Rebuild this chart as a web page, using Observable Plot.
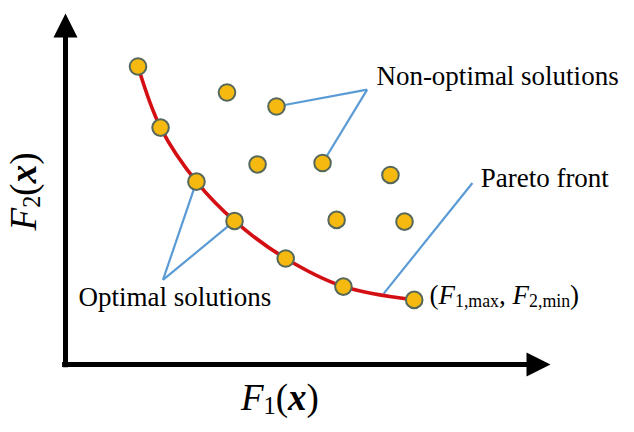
<!DOCTYPE html>
<html><head><meta charset="utf-8">
<script src="https://cdn.jsdelivr.net/npm/d3@7"></script>
<script src="https://cdn.jsdelivr.net/npm/@observablehq/plot@0.6"></script>
<style>
html,body{margin:0;padding:0;background:#fff;}
svg text, svg tspan{white-space:pre;font-family:"Liberation Serif","Times New Roman",serif;}
</style>
</head><body><div id="chart"></div>
<script>
// Data (abstract objective units, 0..100 on both axes)
const optimalF1 = [14.95, 19.6, 27.0, 34.85, 45.4, 57.3, 71.9];
const optimalF2 = [84.9, 67.5, 52.1, 40.9, 30.2, 22.2, 18.4];
const nonOptimalF1 = [33.3, 43.5, 39.6, 53.0, 67.0, 55.9, 69.9];
const nonOptimalF2 = [77.5, 73.5, 57.0, 57.4, 54.0, 41.2, 40.7];

// Annotation leader lines
const leaderX1 = [62.2, 62.2, 83.9, 20.1, 20.1];
const leaderY1 = [78.3, 78.3, 51.7, 24.1, 24.1];
const leaderX2 = [43.5, 53.0, 65.6, 27.0, 34.85];
const leaderY2 = [73.5, 57.4, 20.2, 52.1, 40.9];

// Annotation labels
const labelText = ["Non-optimal solutions", "Pareto front", "Optimal solutions", "(F1,max, F2,min)"];
const labelX = [64.1, 85.6, 2.7, 75.05];
const labelY = [79.5, 50.5, 16.8, 17.1];

// Axis titles
const xTitle = "F1(x)";
const yTitle = "F2(x)";

const optimal = optimalF1.map((x, i) => ({x, y: optimalF2[i]}));
const nonOptimal = nonOptimalF1.map((x, i) => ({x, y: nonOptimalF2[i]}));
const leaders = leaderX1.map((x1, i) => ({x1, y1: leaderY1[i], x2: leaderX2[i], y2: leaderY2[i]}));
const labels = labelText.map((t, i) => ({t, x: labelX[i], y: labelY[i]}));

const arrowHead = {
  draw(context) {
    context.moveTo(0, 0);
    context.lineTo(-12, 24);
    context.lineTo(12, 24);
    context.closePath();
  }
};

const serif = "Liberation Serif";
const dotFill = "#f5b90f", dotStroke = "#56685a";

const chart = Plot.plot({
  width: 634,
  height: 432,
  x: {domain: [0, 100], range: [65, 550], axis: null},
  y: {domain: [0, 100], range: [364, 13], axis: null},
  style: {background: "#fff"},
  marks: [
    Plot.ruleY([0], {x1: -0.6, x2: 96, stroke: "black", strokeWidth: 5}),
    Plot.ruleX([0], {y1: -0.9, y2: 94, stroke: "black", strokeWidth: 5}),
    Plot.dot([{x: 0, y: 100}], {x: "x", y: "y", symbol: arrowHead, fill: "black", stroke: "none", r: 10}),
    Plot.dot([{x: 100, y: 0}], {x: "x", y: "y", symbol: arrowHead, fill: "black", stroke: "none", r: 10, rotate: 90}),
    Plot.link(leaders, {x1: "x1", y1: "y1", x2: "x2", y2: "y2", stroke: "#5b9bd5", strokeWidth: 2.2}),
    Plot.line(optimal, {x: "x", y: "y", curve: "catmull-rom", stroke: "#d40f14", strokeWidth: 3.6}),
    Plot.dot(optimal, {x: "x", y: "y", r: 8.3, fill: dotFill, stroke: dotStroke, strokeWidth: 2}),
    Plot.dot(nonOptimal, {x: "x", y: "y", r: 8.3, fill: dotFill, stroke: dotStroke, strokeWidth: 2}),
    Plot.text(labels, {x: "x", y: "y", text: "t", textAnchor: "start", lineAnchor: "bottom", fontSize: 27, fontFamily: serif, fill: "black"}),
    Plot.text([{t: xTitle}], {x: () => 44.2, y: () => -13.0, text: "t", textAnchor: "middle", lineAnchor: "bottom", fontSize: 37, fontFamily: serif, fill: "black"}),
    Plot.text([{t: yTitle}], {x: () => -6.0, y: () => 49.3, text: "t", textAnchor: "middle", lineAnchor: "bottom", rotate: -90, fontSize: 37, fontFamily: serif, fill: "black"})
  ]
});

// Rich-text rendering of math labels (italic F, subscripts, bold italic x)
const rich = {
  "F1(x)": [["F", "i"], ["1", "s"], ["(", ""], ["x", "bi"], [")", ""]],
  "F2(x)": [["F", "i"], ["2", "s"], ["(", ""], ["x", "bi"], [")", ""]],
  "(F1,max, F2,min)": [["(", ""], ["F", "i"], ["1,max", "s"], [", ", ""], ["F", "i"], ["2,min", "s"], [")", ""]]
};
d3.select(chart).selectAll("text").each(function () {
  const segs = rich[this.textContent];
  if (!segs) return;
  const fs = parseFloat(this.getAttribute("font-size")) || parseFloat(this.parentNode.getAttribute("font-size")) || 27;
  const sel = d3.select(this);
  sel.text(null);
  let shifted = false;
  for (const [s, k] of segs) {
    const ts = sel.append("tspan").text(s);
    if (k === "i") ts.attr("font-style", "italic");
    if (k === "bi") ts.attr("font-style", "italic").attr("font-weight", "bold");
    if (k === "s") {
      ts.attr("font-size", (fs * 0.66) + "px");
      if (!shifted) { ts.attr("dy", fs * 0.1); shifted = true; }
    } else if (shifted) {
      ts.attr("dy", -fs * 0.1); shifted = false;
    }
  }
});

document.getElementById("chart").appendChild(chart);
</script>
</body></html>
